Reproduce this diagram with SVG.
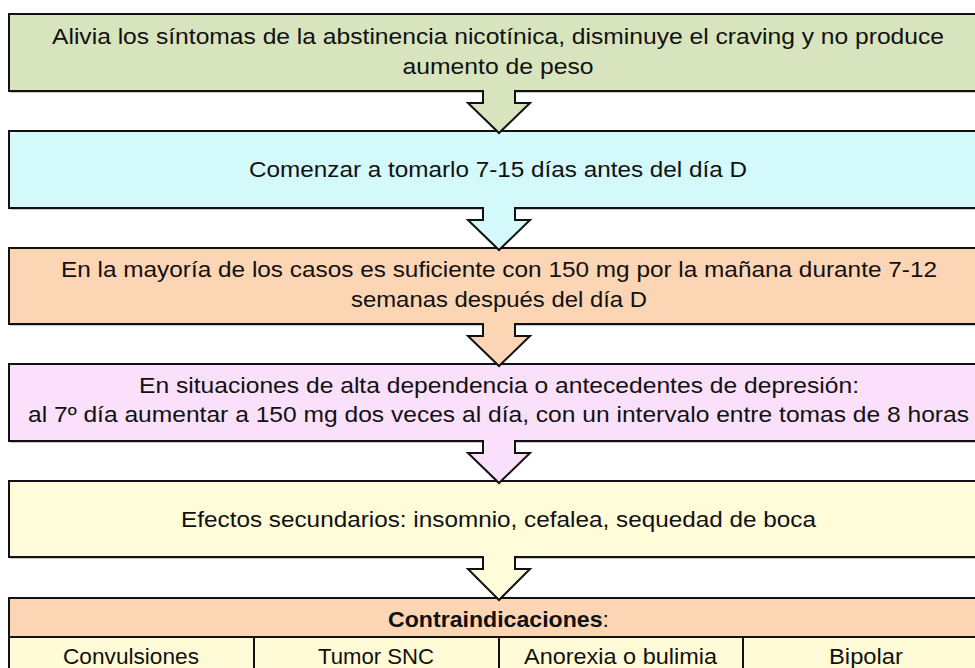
<svg xmlns="http://www.w3.org/2000/svg" width="975" height="668" viewBox="0 0 975 668">
<style>
.box{stroke:#111;stroke-width:2}
.sh{fill:#9a9a9a;opacity:0.55}
.t{font-family:"Liberation Sans",Arial,sans-serif;font-size:22px;fill:#111;text-anchor:middle}
.arr{stroke:#111;stroke-width:2;stroke-linejoin:miter}
</style>
<rect width="975" height="668" fill="#ffffff"/>
<g id="node1">
<rect class="sh" x="10" y="16" width="980" height="77"/>
<rect class="box" x="9" y="14" width="979" height="77" fill="#d7e4bd"/>
<text class="t" x="498" y="44" textLength="892" lengthAdjust="spacingAndGlyphs">Alivia los síntomas de la abstinencia nicotínica, disminuye el craving y no produce</text>
<text class="t" x="498" y="74" textLength="191" lengthAdjust="spacingAndGlyphs">aumento de peso</text>
</g>
<g id="node2">
<rect class="sh" x="10" y="133" width="980" height="77"/>
<rect class="box" x="9" y="131" width="979" height="77" fill="#d3f9fa"/>
<text class="t" x="498" y="177" textLength="498" lengthAdjust="spacingAndGlyphs">Comenzar a tomarlo 7-15 días antes del día D</text>
</g>
<g id="node3">
<rect class="sh" x="10" y="250" width="980" height="76"/>
<rect class="box" x="9" y="248" width="979" height="76" fill="#fcd5b5"/>
<text class="t" x="499" y="277" textLength="876" lengthAdjust="spacingAndGlyphs">En la mayoría de los casos es suficiente con 150 mg por la mañana durante 7-12</text>
<text class="t" x="499" y="307" textLength="296" lengthAdjust="spacingAndGlyphs">semanas después del día D</text>
</g>
<g id="node4">
<rect class="sh" x="10" y="366" width="980" height="77"/>
<rect class="box" x="9" y="364" width="979" height="77" fill="#fae0fb"/>
<text class="t" x="499" y="393" textLength="720" lengthAdjust="spacingAndGlyphs">En situaciones de alta dependencia o antecedentes de depresión:</text>
<text class="t" x="498.5" y="422" textLength="941" lengthAdjust="spacingAndGlyphs">al 7º día aumentar a 150 mg dos veces al día, con un intervalo entre tomas de 8 horas</text>
</g>
<g id="node5">
<rect class="sh" x="10" y="483" width="980" height="76"/>
<rect class="box" x="9" y="481" width="979" height="76" fill="#fefcd9"/>
<text class="t" x="498.5" y="527" textLength="635" lengthAdjust="spacingAndGlyphs">Efectos secundarios: insomnio, cefalea, sequedad de boca</text>
</g>
<g id="node6">
<rect class="box" x="9" y="598" width="979" height="39" fill="#fcd5b5"/>
<text class="t" x="498.5" y="627" textLength="221" lengthAdjust="spacingAndGlyphs"><tspan font-weight="bold">Contraindicaciones</tspan>:</text>
<rect class="box" x="9" y="637" width="245" height="45" fill="#fffbd7"/>
<rect class="box" x="254" y="637" width="245" height="45" fill="#fffbd7"/>
<rect class="box" x="499" y="637" width="244" height="45" fill="#fffbd7"/>
<rect class="box" x="743" y="637" width="245" height="45" fill="#fffbd7"/>
<text class="t" x="131" y="664" textLength="136" lengthAdjust="spacingAndGlyphs">Convulsiones</text>
<text class="t" x="376" y="664" textLength="116" lengthAdjust="spacingAndGlyphs">Tumor SNC</text>
<text class="t" x="620.5" y="664" textLength="193" lengthAdjust="spacingAndGlyphs">Anorexia o bulimia</text>
<text class="t" x="866" y="664" textLength="74" lengthAdjust="spacingAndGlyphs">Bipolar</text>
</g>
<g id="connectors">
<path class="arr" fill="#d7e4bd" d="M483,90 V103 H468 L499,133 L530,103 H515 V90"/>
<path class="arr" fill="#d3f9fa" d="M483,207 V220 H468 L499,250 L530,220 H515 V207"/>
<path class="arr" fill="#fcd5b5" d="M483,323 V336 H468 L499,366 L530,336 H515 V323"/>
<path class="arr" fill="#fae0fb" d="M483,440 V453 H468 L499,483 L530,453 H515 V440"/>
<path class="arr" fill="#fefcd9" d="M483,556 V569 H468 L499,600 L530,569 H515 V556"/>
</g>
</svg>
